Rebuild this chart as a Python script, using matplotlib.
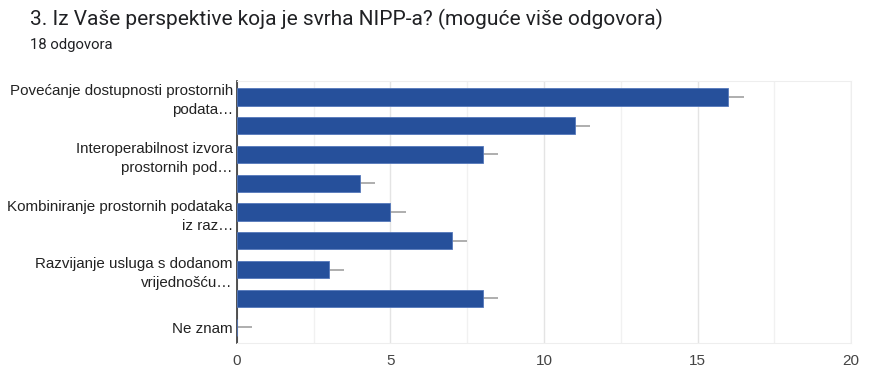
import matplotlib.pyplot as plt
import numpy as np

labels = [
    "Povećanje dostupnosti prostornih\npodata…",
    "",
    "Interoperabilnost izvora\nprostornih pod…",
    "",
    "Kombiniranje prostornih podataka\niz raz…",
    "",
    "Razvijanje usluga s dodanom\nvrijednošću…",
    "",
    "Ne znam",
]
counts = [16, 11, 8, 4, 5, 7, 3, 8, 0]
spread = [0.5] * len(counts)
x_ticks = [0, 5, 10, 15, 20]

fig = plt.figure(figsize=(8.69, 3.79), dpi=100)
ax = fig.add_axes([0.2727, 0.095, 0.7066, 0.691])

y = np.arange(len(counts))
ax.errorbar(counts, y, xerr=spread, fmt="none", ecolor="#a8a8a8",
            elinewidth=1.3, capsize=0, zorder=2)
ax.barh(y, counts, height=0.6, color="#26509b", edgecolor="#5578bb",
        linewidth=0.6, zorder=3)

ax.set_xlim(0, 20)
ax.set_ylim(len(counts) - 0.5 + 0.05, -0.55)
ax.set_yticks(y)
ax.set_yticklabels(labels, fontsize=10.9, color="#222222",
                   family="Liberation Sans", linespacing=1.45)
ax.set_xticks(x_ticks)
ax.set_xticklabels([str(t) for t in x_ticks], fontsize=11, color="#444444",
                   family="Liberation Sans")
ax.set_xticks(np.arange(2.5, 20, 5), minor=True)
ax.tick_params(axis="y", length=0, pad=3)
ax.tick_params(axis="x", which="both", length=0, pad=8)

ax.grid(axis="x", which="major", color="#e4e4e4", linewidth=1, zorder=0)
ax.grid(axis="x", which="minor", color="#f1f1f1", linewidth=1, zorder=0)
ax.set_axisbelow(True)

for side in ["top", "right", "bottom"]:
    ax.spines[side].set_color("#eeeeee")
ax.spines["left"].set_color("#333333")
ax.spines["left"].set_linewidth(1.2)

fig.text(30 / 869, 1 - 19 / 379, "3. Iz Vaše perspektive koja je svrha NIPP-a? (moguće više odgovora)",
         fontsize=15, family="Roboto", color="#202124", va="center")
fig.text(30 / 869, 1 - 45 / 379, "18 odgovora", fontsize=10.7, family="Roboto",
         color="#202124", va="center")

fig.savefig("out.png", dpi=100)
